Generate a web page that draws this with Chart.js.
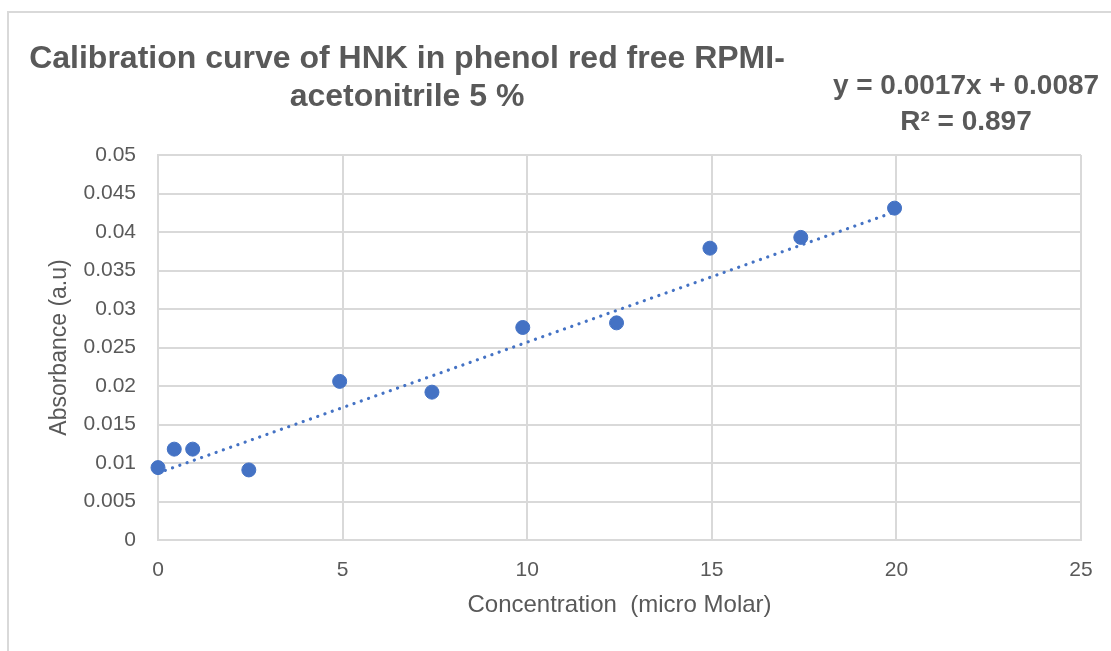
<!DOCTYPE html>
<html>
<head>
<meta charset="utf-8">
<script src="https://cdn.jsdelivr.net/npm/chart.js@4.4.1/dist/chart.umd.min.js"></script>
<style>
  html, body { margin: 0; padding: 0; background: #fff; overflow: hidden; }
  #frame { position: absolute; left: 7px; top: 11px; width: 1200px; height: 700px;
           border-left: 2px solid #d9d9d9; border-top: 2px solid #d9d9d9; }
  #chart { position: absolute; left: 0; top: 0; }
</style>
</head>
<body>
<div id="frame"></div>
<canvas id="chart" width="1111" height="651"></canvas>
<script>
// values
const concentration = [0, 0.44, 0.94, 2.46, 4.92, 7.42, 9.88, 12.42, 14.95, 17.41, 19.95];
const absorbance = [0.0094, 0.0118, 0.0118, 0.0091, 0.0206, 0.0192, 0.0276, 0.0282, 0.0379, 0.0393, 0.0431];

// linear trendline ends
const trendX = [0, 19.95];
const trendY = [0.0087, 0.0426];

const titleLines = ['Calibration curve of HNK in phenol red free RPMI-', 'acetonitrile 5 %'];
const equationLines = ['y = 0.0017x + 0.0087', 'R\u00b2 = 0.897'];
const xTitle = 'Concentration  (micro Molar)';
const yTitle = 'Absorbance (a.u)';

const textColor = '#595959';
const gridColor = '#d9d9d9';
const blue = '#4472c4';

const labelsPlugin = {
    id: 'labels',
    afterDraw(chart) {
        const ctx = chart.ctx;
        ctx.save();
        ctx.fillStyle = textColor;
        ctx.textAlign = 'center';
        ctx.textBaseline = 'alphabetic';
        ctx.font = 'bold 32px "Liberation Sans Narrow", "Liberation Sans", sans-serif';
        ctx.fillText(titleLines[0], 407, 68);
        ctx.fillText(titleLines[1], 407, 106);
        ctx.font = 'bold 28px "Liberation Sans", sans-serif';
        ctx.fillText(equationLines[0], 966, 94);
        ctx.fillText(equationLines[1], 966, 130);
        ctx.restore();
    }
};

const points = concentration.map((c, i) => ({ x: c, y: absorbance[i] }));
const trend = trendX.map((c, i) => ({ x: c, y: trendY[i] }));

const config = {
    type: 'scatter',
    data: {
        datasets: [
            {
                label: 'Trend',
                type: 'line',
                data: trend,
                borderColor: blue,
                borderWidth: 3.2,
                borderDash: [0.1, 7.6],
                borderCapStyle: 'round',
                pointRadius: 0,
                fill: false,
                clip: false,
                order: 2
            },
            {
                label: 'Absorbance',
                data: points,
                backgroundColor: blue,
                borderColor: blue,
                pointRadius: 7,
                pointHoverRadius: 7,
                clip: false,
                order: 1
            }
        ]
    },
    options: {
        responsive: false,
        animation: false,
        layout: { padding: { left: 0, top: 155, right: 30, bottom: 21 } },
        plugins: {
            legend: { display: false },
            tooltip: { enabled: false }
        },
        scales: {
            x: {
                type: 'linear',
                min: 0,
                max: 25,
                ticks: {
                    stepSize: 5,
                    padding: 18,
                    color: textColor,
                    font: { family: '"Liberation Sans", sans-serif', size: 21 }
                },
                grid: { color: gridColor, lineWidth: 2, drawTicks: false },
                border: { color: gridColor, width: 2 },
                title: {
                    display: true,
                    text: xTitle,
                    color: textColor,
                    font: { family: '"Liberation Sans", sans-serif', size: 24 },
                    padding: { top: 0, bottom: 10 }
                },
                afterFit(scale) { scale.height = 90; }
            },
            y: {
                min: 0,
                max: 0.05,
                ticks: {
                    stepSize: 0.005,
                    padding: 22,
                    color: textColor,
                    font: { family: '"Liberation Sans", sans-serif', size: 21 },
                    callback: (v) => String(parseFloat(v.toFixed(3)))
                },
                grid: { color: gridColor, lineWidth: 2, drawTicks: false },
                border: { color: gridColor, width: 2 },
                title: {
                    display: true,
                    text: yTitle,
                    color: textColor,
                    font: { family: '"Liberation Sans", sans-serif', size: 23 },
                    padding: { top: 46, bottom: 0 }
                },
                afterFit(scale) { scale.width = 158; }
            }
        }
    },
    plugins: [labelsPlugin]
};

new Chart(document.getElementById('chart'), config);
</script>
</body>
</html>
